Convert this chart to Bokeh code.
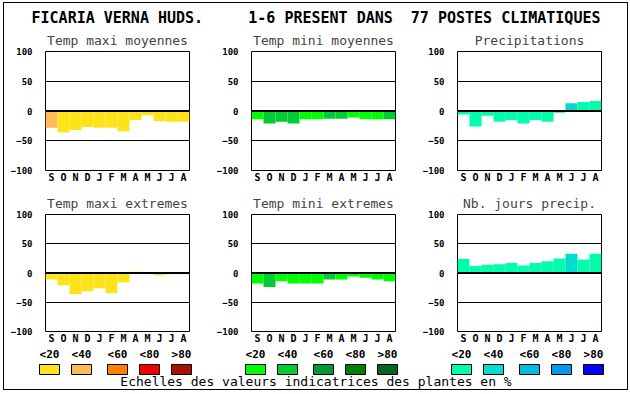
from bokeh.plotting import figure
from bokeh.layouts import column, row
from bokeh.models import Range1d, FixedTicker, Span, ColumnDataSource
from bokeh.embed import file_html
from bokeh.resources import INLINE
from bokeh.core.properties import value

# ---------------- data ----------------
NB = "\u00a0"
main_title = ("FICARIA VERNA HUDS." + NB * 5 + "1-6 PRESENT DANS" + NB * 2 +
              "77 POSTES CLIMATIQUES")
months = ["S", "O", "N", "D", "J", "F", "M", "A", "M", "J", "J", "A"]
yticks = [-100, -50, 0, 50, 100]
class_labels = ["<20", "<40", "<60", "<80", ">80"]
footer = "Echelles des valeurs indicatrices des plantes en %"

titles = ["Temp maxi moyennes", "Temp mini moyennes", "Precipitations",
          "Temp maxi extremes", "Temp mini extremes", "Nb. jours precip."]

tmax_moy = [-28, -36, -32, -27, -28, -28, -34, -15, -7, -17, -18, -18]
tmax_moy_cls = [1, 0, 0, 0, 0, 0, 0, 0, 0, 0, 0, 0]
tmin_moy = [-14, -21, -18, -21, -14, -14, -13, -13, -11, -14, -14, -14]
tmin_moy_cls = [0, 1, 1, 1, 0, 0, 1, 1, 0, 0, 0, 1]
precip = [-6, -26, -8, -18, -15, -21, -15, -18, -3, 13, 15, 17]
precip_cls = [0, 0, 0, 0, 0, 0, 0, 0, 0, 1, 0, 0]
tmax_ext = [-11, -21, -36, -31, -26, -34, -16, 2, 0, -4, -2, -2]
tmax_ext_cls = [0, 0, 0, 0, 0, 0, 0, 0, 0, 0, 0, 0]
tmin_ext = [-18, -24, -14, -18, -18, -18, -11, -11, -6, -8, -11, -14]
tmin_ext_cls = [0, 1, 0, 0, 0, 0, 1, 0, 0, 0, 0, 0]
jours = [24, 12, 14, 15, 17, 13, 17, 20, 25, 33, 23, 33]
jours_cls = [0, 0, 0, 0, 0, 0, 0, 0, 0, 1, 0, 0]

warm = ["#FFE31A", "#FFBB55", "#FF8000", "#EE0000", "#AA1100"]
green = ["#00FF00", "#00CC33", "#009933", "#008000", "#006622"]
blue = ["#00FFAA", "#00DDCC", "#00BBDD", "#0099EE", "#0000FF"]
palettes = [warm, green, blue]

FONT = "DejaVu Sans Mono"

# ---------------- layout constants ----------------
col_w = [206, 206, 211]
ML = 41
FRAME_W, FRAME_H = 144, 120
TITLE_H = 23
ROW1_TOP, ROW1_BOT = 24, 16
ROW2_TOP, ROW2_BOT = 28, 12
LEG_H = 43
TOTAL_W = sum(col_w)


def make_panel(title, vals, cls, palette, ci, top, bot):
    w = col_w[ci]
    mr = w - ML - FRAME_W
    p = figure(width=w, height=top + FRAME_H + bot, output_backend="svg",
               toolbar_location=None, x_range=Range1d(-0.5, len(months) - 0.5),
               y_range=Range1d(-100, 100), min_border_left=ML,
               min_border_right=mr, min_border_top=top, min_border_bottom=bot)
    p.title.text = title
    p.title.align = "center"
    p.title.text_font = FONT
    p.title.text_font_size = "13px"
    p.title.text_font_style = "normal"
    p.title.standoff = 8
    src = ColumnDataSource(dict(x=list(range(len(months))), top=vals,
                                color=[palette[c] for c in cls]))
    p.vbar(x="x", top="top", bottom=0, width=1.0, source=src,
           fill_color="color", line_color=None)
    p.add_layout(Span(location=0, dimension="width", line_color="black",
                      line_width=2))
    p.xgrid.visible = False
    p.ygrid.ticker = FixedTicker(ticks=[-50, 50])
    p.ygrid.grid_line_color = "black"
    p.ygrid.grid_line_alpha = 1.0
    p.outline_line_color = "black"
    p.outline_line_alpha = 1.0
    p.outline_line_width = 1
    xa = p.xaxis[0]
    xa.ticker = FixedTicker(ticks=list(range(len(months))))
    xa.major_label_overrides = {i: m for i, m in enumerate(months)}
    ya = p.yaxis[0]
    ya.ticker = FixedTicker(ticks=yticks)
    for ax, fs, so in ((xa, "10px", 1), (ya, "9px", 13)):
        ax.axis_line_color = None
        ax.major_tick_line_color = None
        ax.minor_tick_line_color = None
        ax.major_tick_out = 0
        ax.major_tick_in = 0
        ax.minor_tick_out = 0
        ax.minor_tick_in = 0
        ax.major_label_text_font = FONT
        ax.major_label_text_font_style = "bold"
        ax.major_label_text_font_size = fs
        ax.major_label_text_color = "black"
        ax.major_label_standoff = so
    return p


series = [(tmax_moy, tmax_moy_cls), (tmin_moy, tmin_moy_cls), (precip, precip_cls),
          (tmax_ext, tmax_ext_cls), (tmin_ext, tmin_ext_cls), (jours, jours_cls)]

row1 = [make_panel(titles[i], series[i][0], series[i][1], palettes[i], i,
                   ROW1_TOP, ROW1_BOT) for i in range(3)]
row2 = [make_panel(titles[i + 3], series[i + 3][0], series[i + 3][1], palettes[i], i,
                   ROW2_TOP, ROW2_BOT) for i in range(3)]


def blank(h):
    f = figure(width=TOTAL_W, height=h, output_backend="svg", toolbar_location=None,
               x_range=Range1d(0, TOTAL_W), y_range=Range1d(0, h), title=None,
               x_axis_type=None, y_axis_type=None, min_border=0)
    f.grid.visible = False
    f.outline_line_color = None
    return f


# title strip
tf = blank(TITLE_H)
tf.text(x=[TOTAL_W / 2], y=[9], text=[main_title], text_font=value(FONT),
        text_font_size="15px", text_font_style="bold", text_align="center",
        text_baseline="middle", text_color="black")

# legend strip
lf = blank(LEG_H)
sw_off = [-6, 26, 62, 94, 126]
lx, lt, sc = [], [], []
x0 = 0
for ci in range(3):
    frame_left = x0 + ML
    for k in range(5):
        lx.append(frame_left + sw_off[k] + 10)
        lt.append(class_labels[k])
        sc.append(palettes[ci][k])
    x0 += col_w[ci]
lf.text(x=lx, y=[35] * len(lx), text=lt, text_font=value(FONT),
        text_font_size="11px", text_font_style="bold", text_align="center",
        text_baseline="middle", text_color="black")
lf.rect(x=lx, y=[20] * len(lx), width=20, height=10, fill_color=sc,
        line_color="black", line_width=1)
lf.text(x=[TOTAL_W / 2], y=[8], text=[footer], text_font=value(FONT),
        text_font_size="13px", text_font_style="normal", text_align="center",
        text_baseline="middle", text_color="black")

layout = column(tf, row(*row1, spacing=0), row(*row2, spacing=0), lf, spacing=0,
                margin=(2, 0, 0, 3), styles={"border": "1px solid black"})

open("out.html", "w").write(file_html(layout, INLINE))
